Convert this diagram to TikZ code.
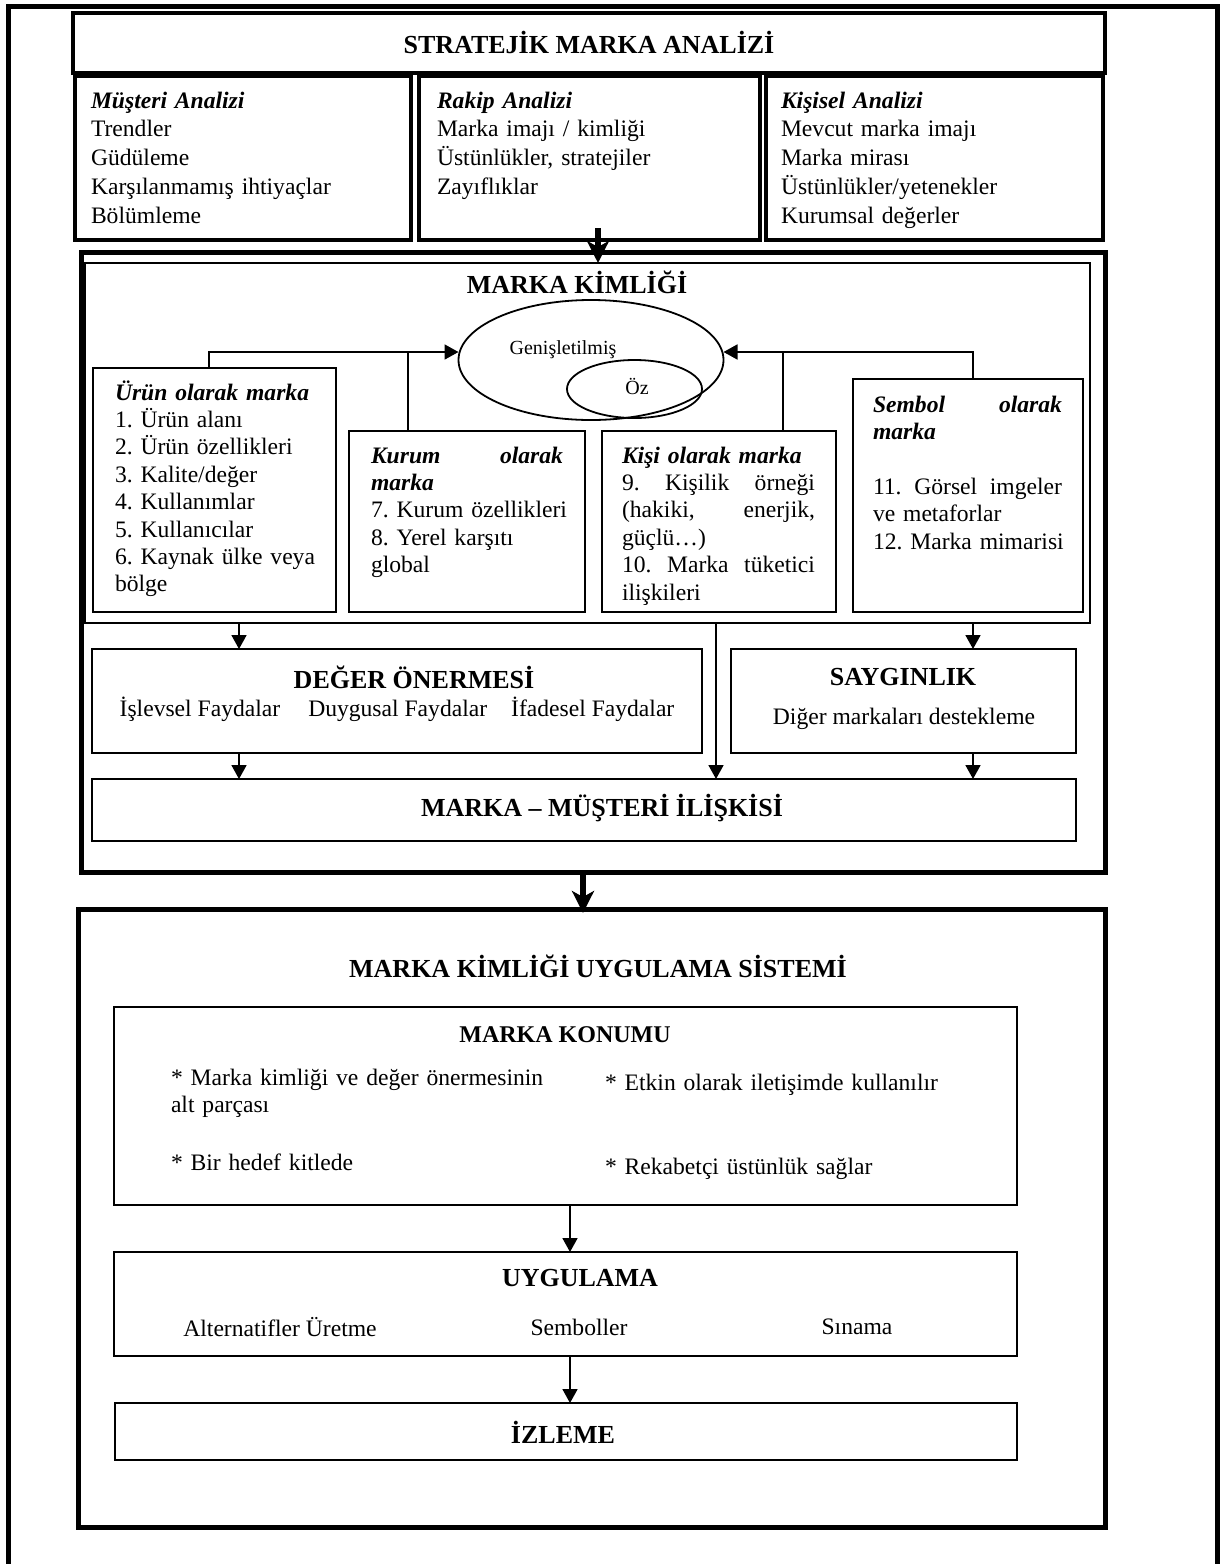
\documentclass[tikz,border=0pt]{standalone}
\usepackage{fontspec}
\setmainfont{Liberation Serif}
\usetikzlibrary{arrows.meta,positioning,shapes.geometric}
\newcommand{\jline}[2]{\makebox[#1][l]{#2}}

\begin{document}
\frenchspacing
\begin{tikzpicture}[
    x=0.5pt, y=-0.5pt,
    every node/.style={inner sep=0pt, outer sep=0pt},
    frame/.style={draw, line width=2.5pt},
    bigbox/.style={draw, line width=2pt},
    box/.style={draw, line width=0.9pt},
    thinbox/.style={draw, line width=0.6pt},
    ring/.style={draw, ellipse, line width=0.9pt},
    head/.style={font=\fontsize{13}{15}\selectfont\bfseries},
    subhead/.style={font=\fontsize{12}{14}\selectfont\bfseries},
    txt/.style={font=\fontsize{11.8}{14.4}\selectfont, text width=140pt, align=left, anchor=base west},
    item/.style={font=\fontsize{11.8}{13.7}\selectfont, text width=140pt, align=left, anchor=base west},
    plain/.style={font=\fontsize{11.8}{14}\selectfont},
    line/.style={line width=0.9pt},
    arrow/.style={line width=0.9pt, -{Triangle[length=7pt, width=7.5pt]}},
    bigarrow/.style={line width=3pt, -{Stealth[length=11pt, width=11pt, inset=3pt]}}
  ]
    \useasboundingbox (0,0) rectangle (1227,1564);
    \draw[frame] (8,1575) |- (1217,6) -- (1217,1575);

    % strateji
    \node[bigbox, minimum width=516pt, minimum height=30pt] (baslik) at (589,43) {};
    \node[head] at (589,42) {STRATEJİK MARKA ANALİZİ};
    \node[bigbox, minimum width=168pt, minimum height=82pt] (musteri) at (243,158) {};
    \node[bigbox, minimum width=170.5pt, minimum height=82pt] (rakip) at (589.5,158) {};
    \node[bigbox, minimum width=168.5pt, minimum height=82pt] (kisisel) at (934.5,158) {};
    \node[txt] at (91,108) {\textbf{\textit{Müşteri Analizi}}\\Trendler\\Güdüleme\\Karşılanmamış ihtiyaçlar\\Bölümleme};
    \node[txt] at (437,108) {\textbf{\textit{Rakip Analizi}}\\Marka imajı / kimliği\\Üstünlükler, stratejiler\\Zayıflıklar};
    \node[txt] at (781,108) {\textbf{\textit{Kişisel Analizi}}\\Mevcut marka imajı\\Marka mirası\\Üstünlükler/yetenekler\\Kurumsal değerler};

    % marka kimligi
    \node[frame, minimum width=512pt, minimum height=310pt] (kimlik) at (593,562) {};
    \node[thinbox, minimum width=502.5pt, minimum height=180pt] (ic) at (587.5,443) {};
    \node[head] at (577,282) {MARKA KİMLİĞİ};
    \node[ring, minimum width=132.5pt, minimum height=60pt] (genis) at (591,360) {};
    \node[ring, minimum width=67.5pt, minimum height=29pt] (oz) at (634.5,389) {};
    \node[font=\fontsize{10}{12}\selectfont] at (563,350) {Genişletilmiş};
    \node[font=\fontsize{10}{12}\selectfont] at (637,386) {Öz};

    \node[box, minimum width=121.5pt, minimum height=122pt] (urun) at (214.5,490) {};
    \node[box, minimum width=118pt, minimum height=90.5pt] (kurum) at (467,521.5) {};
    \node[box, minimum width=117pt, minimum height=90.5pt] (kisi) at (719,521.5) {};
    \node[box, minimum width=115pt, minimum height=116.5pt] (sembol) at (968,495.5) {};
    \node[item] at (115,400) {\textbf{\textit{Ürün olarak marka}}\\1. Ürün alanı\\2. Ürün özellikleri\\3. Kalite/değer\\4. Kullanımlar\\5. Kullanıcılar\\\jline{100pt}{6.\hfill Kaynak\hfill ülke\hfill veya}\\bölge};
    \node[item] at (371,463) {\jline{96pt}{\textbf{\textit{Kurum\hfill olarak}}}\\\textbf{\textit{marka}}\\7. Kurum özellikleri\\8. Yerel karşıtı\\global};
    \node[item] at (622,463) {\textbf{\textit{Kişi olarak marka}}\\\jline{96.5pt}{9.\hfill Kişilik\hfill örneği}\\\jline{96.5pt}{(hakiki,\hfill enerjik,}\\güçlü…)\\\jline{96.5pt}{10.\hfill Marka\hfill tüketici}\\ilişkileri};
    \node[item] at (873,412) {\jline{94.5pt}{\textbf{\textit{Sembol\hfill olarak}}}\\\textbf{\textit{marka}}\\[13.7pt]\jline{94.5pt}{11.\hfill Görsel\hfill imgeler}\\ve metaforlar\\12. Marka mimarisi};

    \coordinate (gl) at ([yshift=4pt]genis.west);
    \coordinate (gr) at ([yshift=4pt]genis.east);
    \coordinate (ul) at (209,0);
    \coordinate (kl) at (408,0);
    \coordinate (pl) at (783,0);
    \coordinate (sl) at (973,0);
    \draw[arrow] (urun.north -| ul) |- (gl);
    \draw[line] (kurum.north -| kl) -- (kl |- gl);
    \draw[arrow] (sembol.north -| sl) |- (gr);
    \draw[line] (kisi.north -| pl) -- (pl |- gr);

    \node[box, minimum width=305pt, minimum height=52pt] (deger) at (397,701) {};
    \node[box, minimum width=172.5pt, minimum height=52pt] (sayg) at (903.5,701) {};
    \node[box, minimum width=492pt, minimum height=31pt] (iliski) at (584,810) {};
    \node[head] at (414,677) {DEĞER ÖNERMESİ};
    \node[plain] at (397,709) {İşlevsel Faydalar\hspace{14pt}Duygusal Faydalar\hspace{12pt}İfadesel Faydalar};
    \node[head] at (903,677) {SAYGINLIK};
    \node[plain] at (904,719) {Diğer markaları destekleme};
    \node[head] at (602,808) {MARKA – MÜŞTERİ İLİŞKİSİ};

    \coordinate (d1) at (239,0);
    \coordinate (d2) at (716,0);
    \coordinate (d3) at (973,0);
    \draw[arrow] (ic.south -| d1) -- (deger.north -| d1);
    \draw[arrow] (deger.south -| d1) -- (iliski.north -| d1);
    \draw[arrow] (ic.south -| d2) -- (iliski.north -| d2);
    \draw[arrow] (ic.south -| d3) -- (sayg.north -| d3);
    \draw[arrow] (sayg.south -| d3) -- (iliski.north -| d3);

    % uygulama sistemi
    \node[frame, minimum width=513.5pt, minimum height=309pt] (sistem) at (591.5,1218) {};
    \node[head] at (598,966) {MARKA KİMLİĞİ UYGULAMA SİSTEMİ};
    \node[box, minimum width=451.5pt, minimum height=99pt] (konum) at (565.5,1106) {};
    \node[subhead] at (565,1035) {MARKA KONUMU};
    \node[item, text width=200pt] at (171,1085) {* Marka kimliği ve değer önermesinin\\alt parçası};
    \node[item] at (171,1170) {* Bir hedef kitlede};
    \node[item, text width=180pt] at (605,1090) {* Etkin olarak iletişimde kullanılır};
    \node[item] at (605,1174) {* Rekabetçi üstünlük sağlar};

    \node[box, minimum width=451.5pt, minimum height=52pt] (uyg) at (565.5,1304) {};
    \node[head] at (580,1278) {UYGULAMA};
    \node[plain] at (280,1327) {Alternatifler Üretme};
    \node[plain] at (579,1327) {Semboller};
    \node[plain] at (857,1327) {Sınama};

    \node[box, minimum width=451pt, minimum height=28.5pt] (izleme) at (566,1431.5) {};
    \node[head] at (563,1432) {İZLEME};

    \coordinate (u1) at (570,0);
    \draw[arrow] (konum.south -| u1) -- (uyg.north -| u1);
    \draw[arrow] (uyg.south -| u1) -- (izleme.north -| u1);

    \coordinate (t1) at (598,0);
    \coordinate (t2) at (583,0);
    \draw[bigarrow] ([yshift=6pt]rakip.south -| t1) -- (ic.north -| t1);
    \draw[bigarrow] (kimlik.south -| t2) -- ([yshift=-2pt]sistem.north -| t2);
  \end{tikzpicture}
\end{document}
